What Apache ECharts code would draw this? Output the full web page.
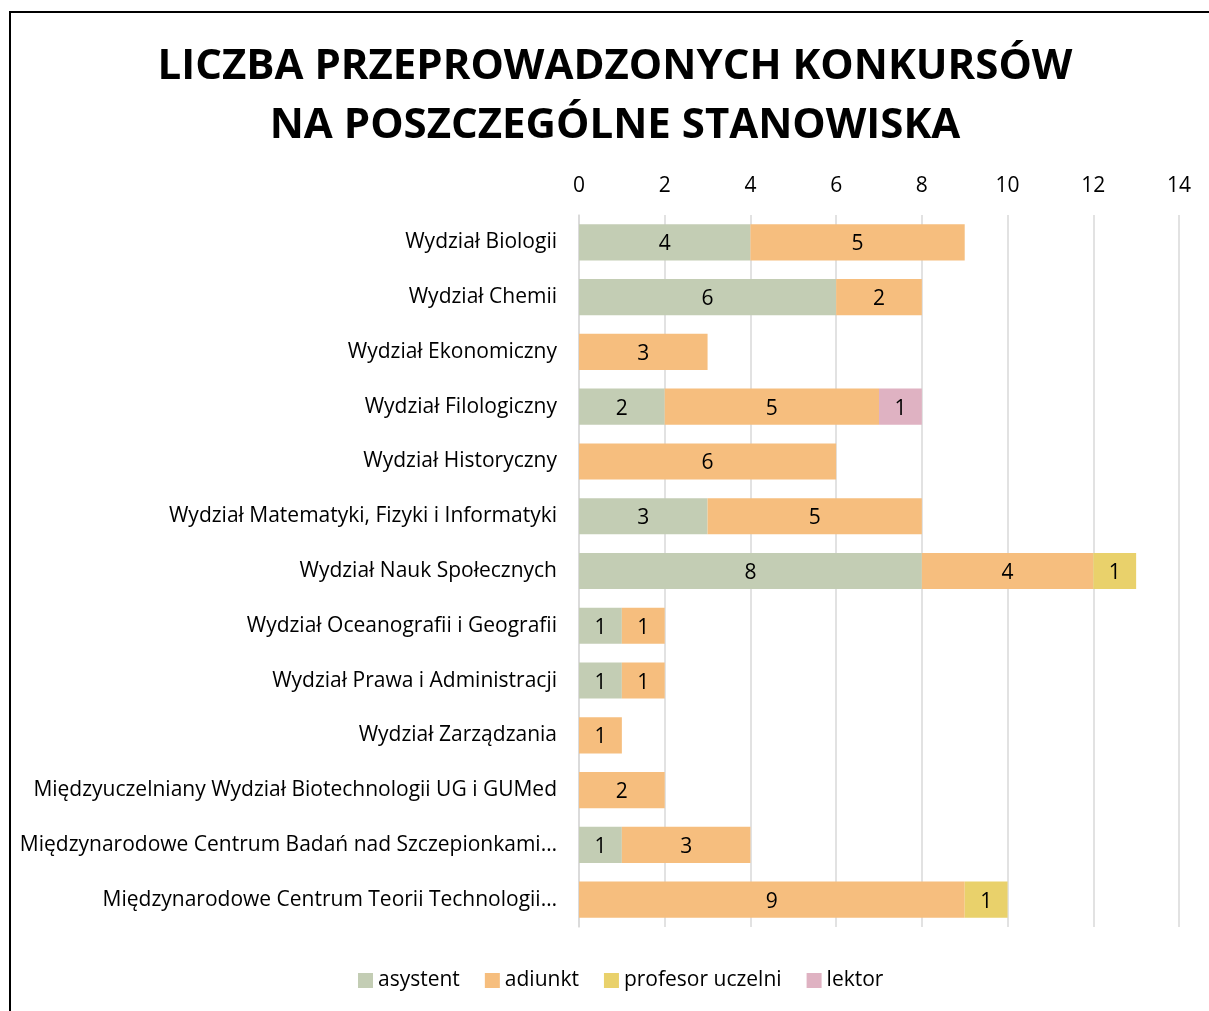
<!DOCTYPE html>
<html>
<head>
<meta charset="utf-8">
<script src="https://cdn.jsdelivr.net/npm/echarts@6/dist/echarts.min.js"></script>
<style>
  html, body {margin: 0; padding: 0; background: #fff; overflow: hidden;}
  #chart {position: absolute; left: 0; top: 0; width: 1209px; height: 1011px;}
  #frame {position: absolute; left: 9px; top: 11px; width: 1300px; height: 1100px;
    border: 2px solid #000; pointer-events: none;}
</style>
</head>
<body>
<div id="chart"></div>
<div id="frame"></div>
<script>
const categories = [
  'Wydział Biologii',
  'Wydział Chemii',
  'Wydział Ekonomiczny',
  'Wydział Filologiczny',
  'Wydział Historyczny',
  'Wydział Matematyki, Fizyki i Informatyki',
  'Wydział Nauk Społecznych',
  'Wydział Oceanografii i Geografii',
  'Wydział Prawa i Administracji',
  'Wydział Zarządzania',
  'Międzyuczelniany Wydział Biotechnologii UG i GUMed',
  'Międzynarodowe Centrum Badań nad Szczepionkami…',
  'Międzynarodowe Centrum Teorii Technologii…'
];
const asystent = [4, 6, null, 2, null, 3, 8, 1, 1, null, null, 1, null];
const adiunkt = [5, 2, 3, 5, 6, 5, 4, 1, 1, 1, 2, 3, 9];
const profesor = [null, null, null, null, null, null, 1, null, null, null, null, null, 1];
const lektor = [null, null, null, 1, null, null, null, null, null, null, null, null, null];

const font = '"Open Sans", Lato, sans-serif';
const chart = echarts.init(document.getElementById('chart'));

const mk = (name, data, color) => ({
  name,
  type: 'bar',
  stack: 'total',
  data,
  barCategoryGap: '34%',
  itemStyle: {color},
  label: {
    show: true,
    position: 'inside',
    color: '#000',
    fontSize: 21,
    fontFamily: font,
    offset: [0, 2]
  }
});

chart.setOption({
  animation: false,
  title: {
    text: 'LICZBA PRZEPROWADZONYCH KONKURSÓW\nNA POSZCZEGÓLNE STANOWISKA',
    left: 610,
    top: 33,
    textAlign: 'center',
    textStyle: {
      fontSize: 42,
      fontWeight: 'bold',
      lineHeight: 59,
      color: '#000',
      fontFamily: font
    }
  },
  legend: {
    bottom: 15,
    left: 353,
    itemWidth: 15,
    itemHeight: 15,
    itemGap: 25,
    icon: 'rect',
    textStyle: {fontSize: 21, color: '#000', fontFamily: font}
  },
  grid: {left: 579, right: 30, top: 215, bottom: 84, containLabel: false},
  xAxis: {
    type: 'value',
    position: 'top',
    min: 0,
    max: 14,
    interval: 2,
    axisLine: {show: false},
    axisTick: {show: false},
    axisLabel: {fontSize: 21, color: '#000', fontFamily: font, margin: 18},
    splitLine: {lineStyle: {color: '#d9d9d9', width: 1.5}}
  },
  yAxis: {
    type: 'category',
    inverse: true,
    data: categories,
    axisLine: {lineStyle: {color: '#d9d9d9', width: 1.5}},
    axisTick: {show: false},
    axisLabel: {
      fontSize: 21, color: '#000', fontFamily: font, margin: 22,
      verticalAlign: 'middle', lineHeight: 21, padding: [6, 0, 0, 0]
    }
  },
  series: [
    mk('asystent', asystent, '#c3cdb4'),
    mk('adiunkt', adiunkt, '#f6be7e'),
    mk('profesor uczelni', profesor, '#e9d16b'),
    mk('lektor', lektor, '#dfb2c2')
  ]
});
</script>
</body>
</html>
